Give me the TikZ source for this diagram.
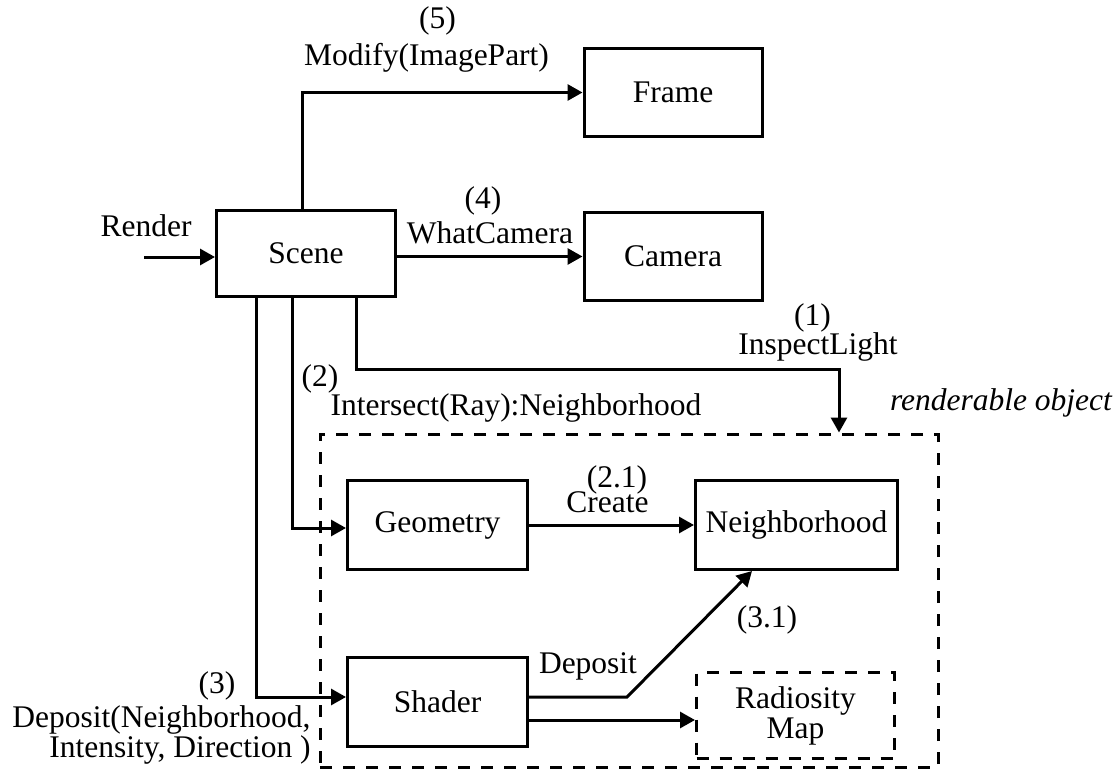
\documentclass[tikz,border=0pt]{standalone}
\usepackage{fontspec}
\setmainfont{Liberation Serif}
\usetikzlibrary{arrows.meta}
\begin{document}
\begin{tikzpicture}[x=0.5pt,y=-0.5pt,
  every node/.style={font=\fontsize{15.75}{18.9}\selectfont},
  box/.style={draw, line width=1.5pt, inner sep=0pt, minimum width=89.5pt, minimum height=43pt},
  dbox/.style={box, dash pattern=on 6pt off 5.5pt},
  lbl/.style={inner sep=0pt},
  arr/.style={line width=1.5pt, -{Triangle[length=7.5pt,width=8pt]}},
]
\useasboundingbox (0,0) rectangle (1120,771);

% components
\node[box] (scene) at (306,253.5) {Scene};
\node[box, minimum width=89pt, minimum height=44pt] (frame) at (673,92.5) {Frame};
\node[box, minimum width=89pt, minimum height=44pt] (camera) at (673,256.5) {Camera};
\node[dbox, minimum width=309pt, minimum height=166.5pt] (robj) at (629,600.5) {};
\node[box, minimum width=90pt, minimum height=44.5pt] (geom) at (437.5,525) {Geometry};
\node[box, minimum width=90pt, minimum height=44.5pt] (shader) at (437.5,701.5) {Shader};
\node[box, minimum width=101pt, minimum height=44.5pt] (neigh) at (796.5,525) {Neighborhood};
\node[dbox, minimum width=99pt, minimum height=43pt, align=center,
      font=\fontsize{15.75}{15}\selectfont] (radio) at (795.5,715.5) {Radiosity\\Map};

% messages
\coordinate (rin) at (144,257);
\draw[arr] (rin) -- (rin -| scene.west);
\draw[arr] ([xshift=-2pt]scene.north) |- (frame.west);
\draw[arr] (camera.west -| scene.east) -- (camera.west);
\coordinate (ibend) at (839,369);
\draw[arr] ([xshift=25pt]scene.south) |- (ibend) -- (ibend |- robj.north);
\draw[arr] ([xshift=-7pt]scene.south) |- ([yshift=-1.5pt]geom.west);
\draw[arr] ([xshift=-25pt]scene.south) |- ([yshift=2.25pt]shader.west);
\draw[arr] (geom.east) -- (neigh.west);
\coordinate (dbend) at (627,697);
\draw[arr] ([yshift=2.25pt]shader.east) -- (dbend) -- ([xshift=-22.25pt]neigh.south);
\coordinate (s2) at ([yshift=-9.25pt]shader.east);
\draw[arr] (s2) -- (s2 -| radio.west);

% labels
\node[lbl] (lrender) at (146,226) {Render};
\node[lbl] (l5) at (437.5,21) {(5)};
\node[lbl] (lmodify) at (426.5,58) {Modify(ImagePart)};
\node[lbl] (l4) at (483,200.5) {(4)};
\node[lbl] (lwhat) at (490,232.5) {WhatCamera};
\node[lbl] (l1) at (812.5,317.5) {(1)};
\node[lbl] (linspect) at (818,347) {InspectLight};
\node[lbl] (l2) at (320,379) {(2)};
\node[lbl] (lintersect) at (516,407.5) {Intersect(Ray):Neighborhood};
\node[lbl] (lrobj) at (1001,403) {\itshape renderable object};
\node[lbl] (l21) at (617,480) {(2.1)};
\node[lbl] (lcreate) at (607.5,502.5) {Create};
\node[lbl] (ldeposit) at (588,666) {Deposit};
\node[lbl] (l31) at (767,620) {(3.1)};
\node[lbl] (l3) at (217,686) {(3)};
\node[lbl, anchor=east, align=right, font=\fontsize{15.75}{13.5}\selectfont]
  (ldep3) at (311,735) {Deposit(Neighborhood,\\Intensity, Direction )};
\end{tikzpicture}
\end{document}
